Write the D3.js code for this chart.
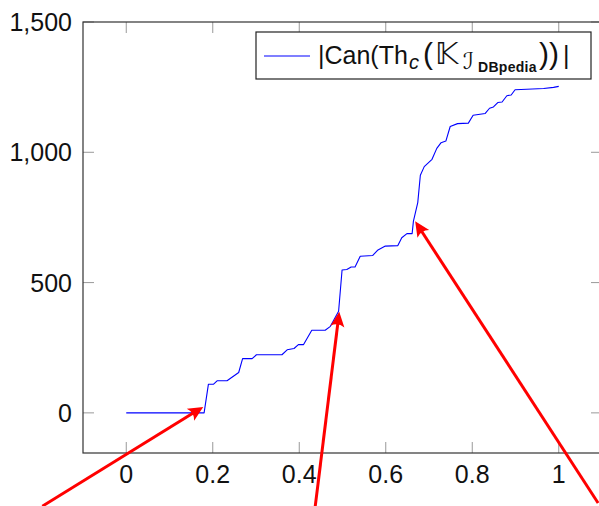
<!DOCTYPE html>
<html><head><meta charset="utf-8">
<script src="https://cdn.jsdelivr.net/npm/d3@7"></script>
<style>body{margin:0;background:#fff}svg{display:block}</style>
</head><body>
<script>
const xs = [0, 0.180, 0.190, 0.202, 0.210, 0.233, 0.260, 0.269, 0.291, 0.301, 0.360, 0.372, 0.388, 0.398, 0.410, 0.429, 0.460, 0.472, 0.491, 0.499, 0.510, 0.520, 0.529, 0.541, 0.570, 0.581, 0.599, 0.628, 0.637, 0.649, 0.661, 0.664, 0.674, 0.680, 0.689, 0.707, 0.718, 0.728, 0.739, 0.749, 0.766, 0.791, 0.802, 0.830, 0.840, 0.849, 0.859, 0.869, 0.880, 0.890, 0.899, 0.926, 0.965, 0.988, 1.000];
const ys = [0, 0, 110, 110, 123, 123, 155, 208, 208, 223, 223, 242, 247, 262, 262, 317, 317, 332, 390, 548, 550, 560, 560, 601, 604, 624, 640, 642, 672, 688, 688, 736, 807, 912, 945, 973, 1015, 1037, 1043, 1099, 1110, 1112, 1142, 1149, 1169, 1174, 1191, 1193, 1217, 1220, 1240, 1242, 1245, 1249, 1253];
const xTicks = [0, 0.2, 0.4, 0.6, 0.8, 1];
const yTicks = [0, 500, 1000, 1500];
// annotation arrows in data units: [tailX, tailY, tipX, tipY]
const arrows = [
  [-0.194, -358, 0.178, 23],
  [0.437, -358, 0.4925, 388],
  [1.091, -346, 0.668, 735]
];

const W = 599, H = 506;
const L = 83, T = 22, R = 602, B = 453;
const x = d3.scaleLinear().domain([-0.1, 1.1]).range([L, R]);
const y = d3.scaleLinear().domain([-154, 1500]).range([B, T]);

const svg = d3.select("body").append("svg").attr("width", W).attr("height", H);
const font = "'Liberation Sans', Arial, sans-serif";

// inner ticks on all four sides
const tk = 11;
const g = svg.append("g").attr("stroke", "#999").attr("stroke-width", 1);
xTicks.forEach(t => {
  g.append("line").attr("x1", x(t)).attr("x2", x(t)).attr("y1", B).attr("y2", B - tk);
  g.append("line").attr("x1", x(t)).attr("x2", x(t)).attr("y1", T).attr("y2", T + tk);
});
yTicks.forEach(t => {
  g.append("line").attr("y1", y(t)).attr("y2", y(t)).attr("x1", L).attr("x2", L + tk);
  g.append("line").attr("y1", y(t)).attr("y2", y(t)).attr("x1", R).attr("x2", R - tk);
});

// frame
svg.append("rect").attr("x", L).attr("y", T).attr("width", R - L).attr("height", B - T)
  .attr("fill", "none").attr("stroke", "#333").attr("stroke-width", 1.2);

// tick labels
svg.append("g").selectAll("text").data(xTicks).join("text")
  .attr("x", d => x(d)).attr("y", 483).attr("text-anchor", "middle")
  .attr("font-family", font).attr("font-size", 25).attr("fill", "#111")
  .text(d => d3.format("")(d));
svg.append("g").selectAll("text").data(yTicks).join("text")
  .attr("x", 72).attr("y", d => y(d) + 9).attr("text-anchor", "end")
  .attr("font-family", font).attr("font-size", 25).attr("fill", "#111")
  .text(d => d3.format(",")(d));

// data line
const pts = xs.map((v, i) => [v, ys[i]]);
svg.append("path").datum(pts)
  .attr("d", d3.line().x(d => x(d[0])).y(d => y(d[1])))
  .attr("fill", "none").attr("stroke", "#0000ff").attr("stroke-width", 1.1)
  .attr("stroke-linejoin", "round");

// legend
const lg = svg.append("g");
lg.append("rect").attr("x", 256).attr("y", 32).attr("width", 335).attr("height", 47)
  .attr("fill", "#fff").attr("stroke", "#222").attr("stroke-width", 1.2);
lg.append("line").attr("x1", 264).attr("x2", 310).attr("y1", 56).attr("y2", 56)
  .attr("stroke", "#0000ff").attr("stroke-width", 1.1);
const lt = lg.append("text").attr("y", 64)
  .attr("font-family", "'Liberation Sans', 'DejaVu Sans', sans-serif").attr("font-size", 25).attr("fill", "#111");
lt.append("tspan").attr("x", 318).text("|Can(Th");
lt.append("tspan").attr("x", 409).attr("font-size", 20).attr("font-style", "italic").attr("dy", 5).text("c");
lt.append("tspan").attr("x", 423).attr("font-size", 30).attr("dy", -5).text("(");
lt.append("tspan").attr("x", 435).attr("font-family", "'DejaVu Sans', sans-serif").attr("font-size", 31).text("\u{1D542}");
lt.append("tspan").attr("x", 463).attr("font-family", "'DejaVu Sans', sans-serif").attr("font-size", 23).attr("font-style", "italic").attr("dy", 5).text("\u2110");
lt.append("tspan").attr("x", 478).attr("font-size", 14).attr("font-weight", "bold").attr("letter-spacing", 0.3).attr("dy", 3).text("DBpedia");
lt.append("tspan").attr("x", 539).attr("font-size", 30).attr("dy", -8).text("))");
lt.append("tspan").attr("x", 563).text("|");

// annotation arrows
const ag = svg.append("g").attr("stroke", "#ff0000").attr("fill", "#ff0000");
arrows.forEach(a => {
  const x1 = x(a[0]), y1 = y(a[1]), x2 = x(a[2]), y2 = y(a[3]);
  const ang = Math.atan2(y2 - y1, x2 - x1);
  const hl = 15, hw = 7;
  const bx = x2 - hl * Math.cos(ang), by = y2 - hl * Math.sin(ang);
  ag.append("line").attr("x1", x1).attr("y1", y1).attr("x2", x2 - 8 * Math.cos(ang)).attr("y2", y2 - 8 * Math.sin(ang))
    .attr("stroke-width", 3);
  const px = -Math.sin(ang), py = Math.cos(ang);
  const mx = x2 - 0.7 * hl * Math.cos(ang), my = y2 - 0.7 * hl * Math.sin(ang);
  ag.append("path").attr("stroke", "none")
    .attr("d", `M${x2},${y2}L${bx + hw * px},${by + hw * py}Q${mx},${my} ${bx - hw * px},${by - hw * py}Z`);
});
</script>
</body></html>
